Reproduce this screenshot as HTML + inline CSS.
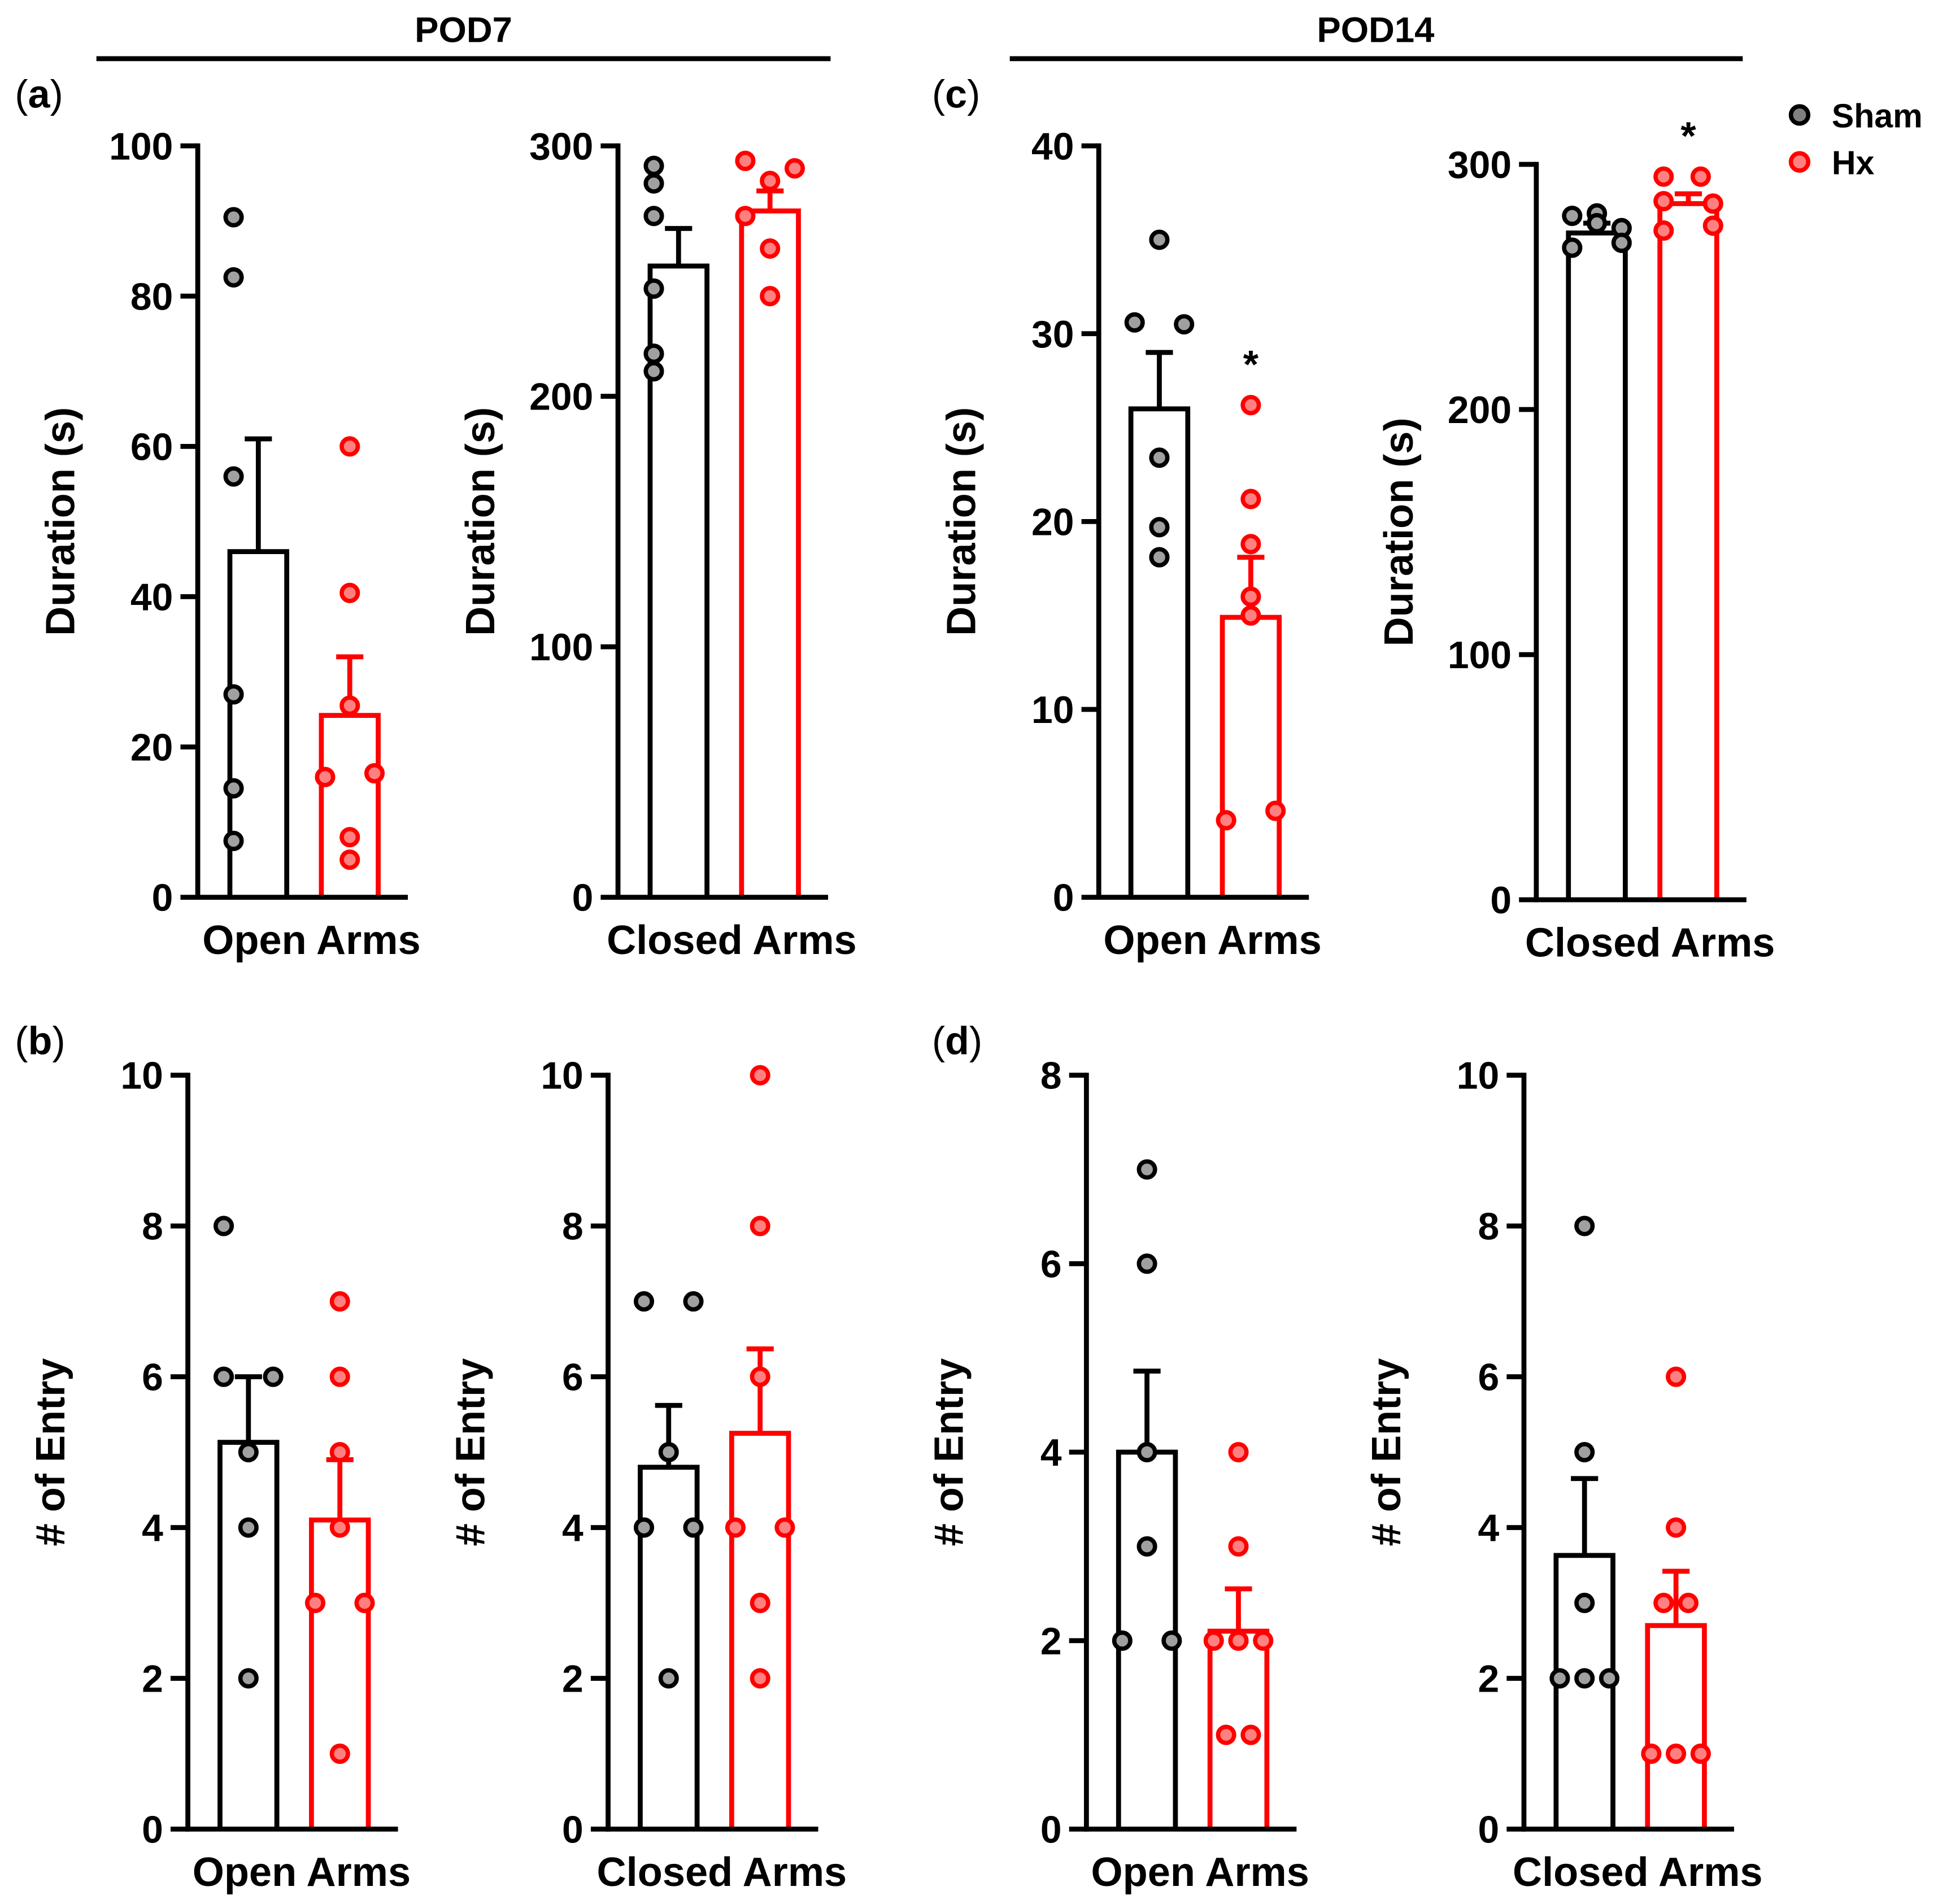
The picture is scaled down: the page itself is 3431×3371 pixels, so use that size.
<!DOCTYPE html>
<html><head><meta charset="utf-8"><style>
html,body{margin:0;padding:0;background:#fff}
svg{display:block}
text{font-family:"Liberation Sans",Arial,sans-serif;font-weight:bold;fill:#000}
</style></head><body>
<svg id="fig" width="3431" height="3371" viewBox="0 0 1568 1540.6" preserveAspectRatio="none" xmlns="http://www.w3.org/2000/svg">
<g>
<text x="375" y="34" font-size="29" text-anchor="middle">POD7</text>
<line x1="78" y1="47.5" x2="672" y2="47.5" stroke="#000" stroke-width="4"/>
</g>
<g>
<text x="1113" y="34" font-size="29" text-anchor="middle">POD14</text>
<line x1="817" y1="47.5" x2="1410" y2="47.5" stroke="#000" stroke-width="4"/>
</g>
<text x="12" y="87" font-size="32"><tspan font-weight="normal">(</tspan>a<tspan font-weight="normal">)</tspan></text>
<text x="754" y="87" font-size="32"><tspan font-weight="normal">(</tspan>c<tspan font-weight="normal">)</tspan></text>
<text x="12" y="853" font-size="32"><tspan font-weight="normal">(</tspan>b<tspan font-weight="normal">)</tspan></text>
<text x="754" y="853" font-size="32"><tspan font-weight="normal">(</tspan>d<tspan font-weight="normal">)</tspan></text>
<g>
<circle cx="1456" cy="93" r="7" fill="#808080" stroke="#000" stroke-width="3.5"/>
<text x="1482" y="103" font-size="27">Sham</text>
<circle cx="1456" cy="131" r="7" fill="#ff8080" stroke="#ff0000" stroke-width="3.5"/>
<text x="1482" y="141" font-size="27">Hx</text>
</g>
</svg>
<script>
// ---- data ----
const panelNames = ['a-open','a-closed','c-open','c-closed','b-open','b-closed','d-open','d-closed'];
const xLabels = ['Open Arms','Closed Arms','Open Arms','Closed Arms','Open Arms','Closed Arms','Open Arms','Closed Arms'];
const yTitles = ['Duration (s)','Duration (s)','Duration (s)','Duration (s)','# of Entry','# of Entry','# of Entry','# of Entry'];
const yMaxes = [100,300,40,300,10,10,8,10];
const yTickStep = [20,100,10,100,2,2,2,2];
const shamMeans = [46,252,26,272,5.13,4.8,4,3.63];
const shamErr = [61,267,29,276,6,5.62,4.86,4.65];
const hxMeans = [24.2,274,14.9,284,4.1,5.25,2.1,2.7];
const hxErr = [32,282,18.1,288,4.9,6.37,2.55,3.42];
const shamPoints = [
 [90.5,82.5,56,27,14.5,7.5],
 [292,285,272,243,217,210],
 [35,30.6,30.5,23.4,19.7,18.1],
 [279,280,274,276,266,268],
 [8,6,6,5,4,2],
 [7,7,5,4,4,2],
 [7,6,4,3,2,2],
 [8,5,3,2,2,2]
];
const hxPoints = [
 [60,40.5,25.5,16,16.5,8,5],
 [294,291,286,272,259,240],
 [26.2,21.2,18.8,16,15,4.1,4.6],
 [295,295,285,284,273,275],
 [7,6,5,4,3,3,1],
 [10,8,6,4,4,3,2],
 [4,3,2,2,2,1,1],
 [6,4,3,3,1,1,1]
];
const shamJit = [[-1,-1,-1,-1,-1,-1],[-1,-1,-1,-1,-1,-1],[0,-1,1,0,0,0],[-1,0,1,0,-1,1],[-1,-1,1,0,0,0],[-1,1,0,-1,1,0],[0,0,0,0,-1,1],[0,0,0,-1,0,1]];
const hxJit = [[0,0,0,-1,1,0,0],[-1,1,0,-1,0,0],[0,0,0,0,0,-1,1],[-1,0.5,-1,1,-1,1],[0,0,0,0,-1,1,0],[0,0,0,-1,1,0,0],[0,0,0,-1,1,-0.5,0.5],[0,0,-0.5,0.5,-1,0,1]];
const stars = [false,false,true,true,false,false,false,false];
// ---- layout ----
const axisX = [160,500,889,1243,152,492,879,1233];
const y0s = [726,726,726,728,1480,1480,1480,1480];
const ytops = [118,118,118,133,870,870,870,870];
const svg = document.getElementById('fig');
const NS = 'http://www.w3.org/2000/svg';
function mk(tag, attrs, parent){const e=document.createElementNS(NS,tag);for(const k in attrs)e.setAttribute(k,attrs[k]);(parent||svg).appendChild(e);return e;}
for(let p=0;p<8;p++){
  const ax=axisX[p], y0=y0s[p], yt=ytops[p], ym=yMaxes[p];
  const yS=v=>y0-(v/ym)*(y0-yt);
  const g=mk('g',{});
  
  
  const sx=ax+49, hx=ax+123, bw=46, jw=20;
  const series=[[sx,shamMeans[p],shamErr[p],shamPoints[p],shamJit[p],'#000','#a0a0a0','sham'],[hx,hxMeans[p],hxErr[p],hxPoints[p],hxJit[p],'#ff0000','#ff8080','hx']];
  series.forEach(s=>{
    const [cx,m,e,pts,jit,col,fill,nm]=s;
    const bar=mk('path',{d:`M${cx-bw/2},${y0} V${yS(m)} H${cx+bw/2} V${y0}`,fill:'none',stroke:col,'stroke-width':4},g);
    
    
    const eb=mk('path',{d:`M${cx},${yS(m)} V${yS(e)} M${cx-11},${yS(e)} H${cx+11}`,fill:'none',stroke:col,'stroke-width':4},g);
    
    
    pts.forEach((v,i)=>{
      const c=mk('circle',{cx:cx+jit[i]*jw,cy:yS(v),r:6.5,fill:fill,stroke:col,'stroke-width':3.5},g);
      
      
    });
  });
  const ya=mk('line',{x1:ax,y1:yt-2,x2:ax,y2:y0+2,stroke:'#000','stroke-width':4},g);
  
  
  const xa=mk('line',{x1:ax-2,y1:y0,x2:ax+170,y2:y0,stroke:'#000','stroke-width':4},g);
  
  
  for(let v=0;v<=ym+1e-9;v+=yTickStep[p]){
    const y=yS(v);
    const t=mk('line',{x1:ax-14,y1:y,x2:ax,y2:y,stroke:'#000','stroke-width':4},g);
    
    
    const tl=mk('text',{x:ax-20,y:y+11,'font-size':31,'text-anchor':'end'},g);
    tl.textContent=String(v);
    
    
  }
  const xl=mk('text',{x:ax+92,y:y0+46,'font-size':33,'text-anchor':'middle'},g);
  xl.textContent=xLabels[p];
  
  
  const tx=ax-100, ty=(yt+y0)/2;
  const yl=mk('text',{x:tx,y:ty,'font-size':33,'text-anchor':'middle',transform:`rotate(-90 ${tx} ${ty})`},g);
  yl.textContent=yTitles[p];
  
  
  if(stars[p]){
    const top=Math.max(...hxPoints[p]);
    const st=mk('text',{x:hx,y:yS(top)-22,'font-size':32,'text-anchor':'middle'},g);
    st.textContent='*';
    
    
  }
}
</script>
</body></html>
